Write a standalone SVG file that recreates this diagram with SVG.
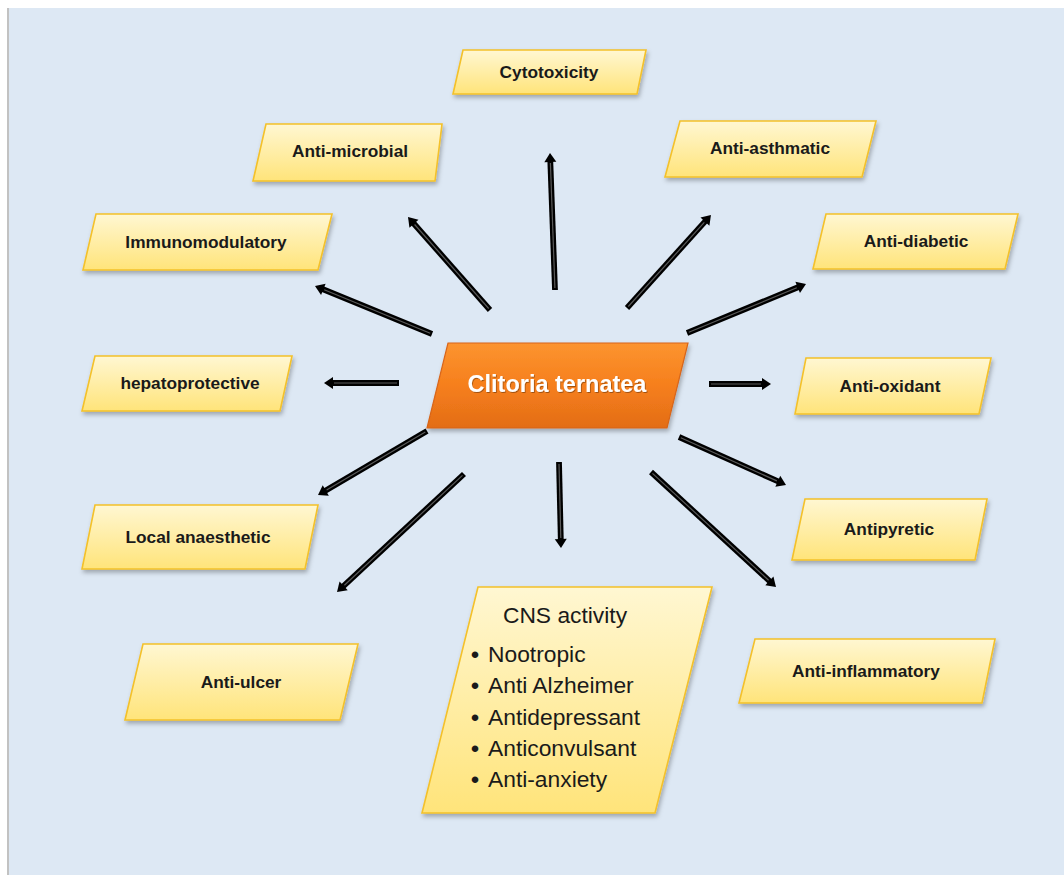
<svg xmlns="http://www.w3.org/2000/svg" width="1064" height="875" viewBox="0 0 1064 875">
<defs>
<linearGradient id="yg" x1="0" y1="0" x2="0" y2="1">
<stop offset="0" stop-color="#fff7d2"/>
<stop offset="1" stop-color="#ffe47a"/>
</linearGradient>
<linearGradient id="og" x1="0" y1="0" x2="0" y2="1">
<stop offset="0" stop-color="#fc9430"/>
<stop offset="0.5" stop-color="#f67f1c"/>
<stop offset="1" stop-color="#e36d17"/>
</linearGradient>
<filter id="sh" x="-10%" y="-10%" width="125%" height="135%">
<feDropShadow dx="1.5" dy="3" stdDeviation="2" flood-color="#000" flood-opacity="0.28"/>
</filter>
<filter id="ts" x="-5%" y="-20%" width="110%" height="150%">
<feDropShadow dx="0.8" dy="1" stdDeviation="0.6" flood-color="#000" flood-opacity="0.35"/>
</filter>
<marker id="ah" markerUnits="userSpaceOnUse" markerWidth="14" markerHeight="14" viewBox="-2 -7 12 14" refX="0" refY="0" orient="auto">
<path d="M-1,-6 L8,0 L-1,6 z" fill="#000"/>
</marker>
<style>
.box{fill:url(#yg);stroke:#f4c12a;stroke-width:1.6;filter:url(#sh)}
.lbl{font-family:"Liberation Sans",Arial,sans-serif;font-weight:bold;font-size:17.3px;fill:#1a1a1a;text-anchor:middle}
.cns{font-family:"Liberation Sans",Arial,sans-serif;font-size:22.8px;fill:#1a1a1a}
.ar{stroke:#000;stroke-width:5.8;fill:none;marker-end:url(#ah)}
.ai{stroke:#5a5a5a;stroke-width:1.2;fill:none}
</style>
</defs>
<rect x="0" y="0" width="1064" height="875" fill="#ffffff"/>
<rect x="8" y="8" width="1056" height="867" fill="#dde8f4"/>
<rect x="7" y="8" width="2" height="867" fill="#c2c2c2"/>

<g id="connectors">
<line class="ar" x1="555" y1="290" x2="550.3" y2="161"/>
<line class="ar" x1="490" y1="310" x2="413.3" y2="223"/>
<line class="ar" x1="627" y1="308" x2="705.6" y2="220.9"/>
<line class="ar" x1="432" y1="334" x2="322.4" y2="289"/>
<line class="ar" x1="687" y1="333" x2="798.6" y2="287"/>
<line class="ar" x1="399" y1="383" x2="332" y2="383"/>
<line class="ar" x1="709" y1="384" x2="763" y2="384"/>
<line class="ar" x1="427" y1="431" x2="324.9" y2="491"/>
<line class="ar" x1="679" y1="437" x2="778.7" y2="481.7"/>
<line class="ar" x1="464" y1="474" x2="342.9" y2="586.6"/>
<line class="ar" x1="559" y1="462" x2="560.8" y2="540"/>
<line class="ar" x1="651" y1="472" x2="770.1" y2="581.6"/>
<line class="ai" x1="554.9" y1="288" x2="550.4" y2="163"/>
<line class="ai" x1="488.7" y1="308.5" x2="414.6" y2="224.5"/>
<line class="ai" x1="628.3" y1="306.5" x2="704.3" y2="222.4"/>
<line class="ai" x1="430.2" y1="333.2" x2="324.2" y2="289.8"/>
<line class="ai" x1="688.8" y1="332.2" x2="796.8" y2="287.8"/>
<line class="ai" x1="397" y1="383" x2="334" y2="383"/>
<line class="ai" x1="711" y1="384" x2="761" y2="384"/>
<line class="ai" x1="425.3" y1="432" x2="326.6" y2="490"/>
<line class="ai" x1="680.8" y1="437.8" x2="776.9" y2="480.9"/>
<line class="ai" x1="462.5" y1="475.4" x2="344.4" y2="585.2"/>
<line class="ai" x1="559" y1="464" x2="560.8" y2="538"/>
<line class="ai" x1="652.5" y1="473.4" x2="768.6" y2="580.2"/>
</g>

<g id="center">
<polygon points="448,343 688,343 667,428 427,428" fill="url(#og)" stroke="#d8651a" stroke-width="1.2" filter="url(#sh)"/>
<text x="557" y="392" font-family="'Liberation Sans',Arial,sans-serif" font-weight="bold" font-size="23.5px" fill="#ffffff" text-anchor="middle" filter="url(#ts)">Clitoria ternatea</text>
</g>

<g id="cytotoxicity">
<polygon class="box" points="463,50 646,50 637,94 453,94"/>
<text class="lbl" x="549" y="78">Cytotoxicity</text>
</g>
<g id="anti-microbial">
<polygon class="box" points="266,124 442,124 435,181 253,181"/>
<text class="lbl" x="350" y="157">Anti-microbial</text>
</g>
<g id="anti-asthmatic">
<polygon class="box" points="680,121 876,121 862,177 665,177"/>
<text class="lbl" x="770" y="154">Anti-asthmatic</text>
</g>
<g id="immunomodulatory">
<polygon class="box" points="96,214 332,214 318,270 83,270"/>
<text class="lbl" x="206" y="248">Immunomodulatory</text>
</g>
<g id="anti-diabetic">
<polygon class="box" points="826,214 1018,214 1005,269 813,269"/>
<text class="lbl" x="916" y="247">Anti-diabetic</text>
</g>
<g id="hepatoprotective">
<polygon class="box" points="95,356 292,356 280,411 82,411"/>
<text class="lbl" x="190" y="389">hepatoprotective</text>
</g>
<g id="anti-oxidant">
<polygon class="box" points="806,358 991,358 979,414 795,414"/>
<text class="lbl" x="890" y="392">Anti-oxidant</text>
</g>
<g id="local-anaesthetic">
<polygon class="box" points="95,505 318,505 305,569 82,569"/>
<text class="lbl" x="198" y="543">Local anaesthetic</text>
</g>
<g id="antipyretic">
<polygon class="box" points="805,499 987,499 975,560 792,560"/>
<text class="lbl" x="889" y="535">Antipyretic</text>
</g>
<g id="anti-inflammatory">
<polygon class="box" points="755,639 995,639 982,703 739,703"/>
<text class="lbl" x="866" y="677">Anti-inflammatory</text>
</g>
<g id="anti-ulcer">
<polygon class="box" points="143,644 358,644 340,720 125,720"/>
<text class="lbl" x="241" y="688">Anti-ulcer</text>
</g>
<g id="cns-activity">
<polygon class="box" points="478,587 712,587 655,813 422,813"/>
<text class="cns" x="565" y="623" text-anchor="middle">CNS activity</text>
<text class="cns" x="471" y="662" font-weight="bold">•</text><text class="cns" x="488" y="662">Nootropic</text>
<text class="cns" x="471" y="693" font-weight="bold">•</text><text class="cns" x="488" y="693">Anti Alzheimer</text>
<text class="cns" x="471" y="725" font-weight="bold">•</text><text class="cns" x="488" y="725">Antidepressant</text>
<text class="cns" x="471" y="756" font-weight="bold">•</text><text class="cns" x="488" y="756">Anticonvulsant</text>
<text class="cns" x="471" y="787" font-weight="bold">•</text><text class="cns" x="488" y="787">Anti-anxiety</text>
</g>
</svg>
